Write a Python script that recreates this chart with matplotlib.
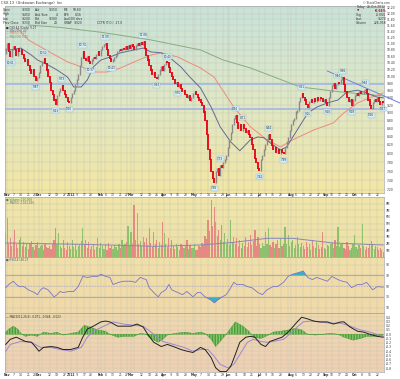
import numpy as np
import pandas as pd
import matplotlib
matplotlib.use("Agg")
import matplotlib.pyplot as plt
from matplotlib.colors import LinearSegmentedColormap
from matplotlib.ticker import FixedLocator, FixedFormatter, NullLocator

# ---------------- data ----------------
closes = [
    10.86, 11.00, 10.74, 10.61, 10.80, 10.90, 10.80, 10.64, 10.83, 10.74,
    10.80, 10.67, 10.55, 10.43, 10.49, 10.31, 10.19, 10.10, 10.19, 10.01,
    9.87, 9.96, 10.13, 10.31, 10.43, 10.52, 10.37, 10.19, 10.01, 9.84,
    9.61, 9.48, 9.34, 9.23, 9.45, 9.56, 9.67, 9.73, 9.61, 9.48,
    9.40, 9.31, 9.26, 9.40, 9.51, 9.61, 9.76, 9.90, 10.07, 10.31,
    10.58, 10.74, 10.55, 10.49, 10.61, 10.43, 10.37, 10.49, 10.58, 10.55,
    10.67, 10.74, 10.64, 10.80, 10.90, 10.96, 11.00, 10.80, 10.64, 10.55,
    10.43, 10.49, 10.58, 10.64, 10.74, 10.80, 10.77, 10.86, 10.80, 10.90,
    10.83, 10.93, 10.86, 10.96, 10.90, 10.83, 10.93, 11.00, 10.93, 11.03,
    10.96, 11.06, 10.86, 10.64, 10.49, 10.31, 10.19, 10.07, 10.13, 9.98,
    9.93, 10.07, 10.19, 10.28, 10.19, 10.34, 10.43, 10.40, 10.25, 10.13,
    10.01, 9.90, 9.79, 9.84, 9.70, 9.76, 9.67, 9.56, 9.61, 9.48,
    9.40, 9.45, 9.34, 9.42, 9.51, 9.56, 9.48, 9.40, 9.34, 9.26,
    9.18, 9.02, 8.81, 8.44, 8.08, 7.85, 7.58, 7.44, 7.36, 7.58,
    7.66, 7.51, 7.73, 7.68, 7.78, 7.85, 7.96, 8.13, 8.32, 8.51,
    8.69, 8.86, 8.94, 8.76, 8.61, 8.69, 8.56, 8.71, 8.61, 8.51,
    8.56, 8.44, 8.37, 8.20, 8.08, 7.89, 7.78, 7.66, 7.62, 7.85,
    7.96, 8.08, 8.20, 8.32, 8.44, 8.32, 8.18, 8.08, 8.13, 8.03,
    8.08, 7.99, 8.08, 8.01, 7.99, 8.13, 8.27, 8.37, 8.56, 8.69,
    8.81, 8.86, 9.02, 9.07, 9.29, 9.42, 9.51, 9.40, 9.34, 9.23,
    9.15, 9.29, 9.34, 9.26, 9.37, 9.31, 9.40, 9.34, 9.42, 9.37,
    9.29, 9.34, 9.26, 9.20, 9.40, 9.56, 9.73, 9.79, 9.67, 9.76,
    9.84, 9.79, 9.90, 9.96, 9.76, 9.56, 9.40, 9.29, 9.34, 9.18,
    9.34, 9.45, 9.51, 9.45, 9.56, 9.51, 9.53, 9.59, 9.64, 9.51,
    9.34, 9.18, 9.10, 9.26, 9.34, 9.29, 9.40, 9.31, 9.23, 9.31,
    9.27]
first_open = 10.70

volume_m = [
    3.6, 5.8, 2.0, 2.8, 1.6, 2.2, 4.0, 1.9, 1.4, 2.5,
    3.0, 1.7, 2.3, 1.5, 2.1, 1.2, 1.9, 2.4, 1.5, 1.1,
    1.8, 2.2, 1.4, 1.6, 1.8, 1.0, 2.0, 1.5, 1.3, 1.7,
    1.2, 1.9, 2.6, 4.3, 2.0, 3.6, 1.6, 1.3, 2.5, 1.4,
    1.0, 2.2, 1.7, 1.2, 2.5, 1.5, 1.9, 1.1, 1.6, 2.0,
    2.4, 4.3, 1.8, 2.5, 1.4, 2.2, 1.2, 1.6, 2.0, 1.1,
    1.5, 2.8, 1.3, 2.1, 1.7, 1.2, 1.9, 1.0, 2.1, 1.4,
    1.6, 1.2, 1.8, 1.5, 1.1, 1.9, 1.3, 2.5, 1.6, 1.9,
    2.2, 4.6, 1.7, 3.7, 2.0, 7.8, 2.6, 6.6, 1.9, 2.4,
    1.6, 3.0, 2.2, 2.8, 1.8, 4.3, 2.1, 1.5, 3.7, 2.0,
    2.5, 1.4, 2.2, 1.8, 5.2, 3.6, 1.9, 1.5, 2.8, 1.3,
    2.5, 1.7, 1.2, 2.0, 1.5, 1.1, 1.9, 1.8, 1.3, 1.6,
    2.5, 1.2, 1.8, 1.4, 1.3, 2.0, 1.1, 1.0, 1.6, 1.5,
    2.1, 1.8, 3.2, 2.7, 5.5, 3.9, 8.5, 4.6, 7.5, 5.2,
    3.1, 4.0, 2.6, 4.8, 2.2, 3.6, 2.0, 2.7, 1.8, 5.5,
    2.3, 3.0, 1.9, 2.8, 1.6, 2.5, 1.4, 2.1, 1.7, 3.0,
    1.5, 2.2, 3.3, 1.8, 2.4, 4.0, 1.6, 3.0, 1.9, 1.4,
    2.1, 1.6, 3.7, 2.0, 4.3, 1.8, 1.5, 2.2, 1.3, 1.9,
    2.5, 1.4, 2.8, 1.7, 2.0, 4.5, 1.9, 3.3, 1.6, 2.2,
    2.5, 1.4, 1.8, 3.0, 2.0, 1.5, 2.1, 1.7, 1.2, 2.3,
    1.5, 1.9, 1.1, 2.5, 1.6, 1.3, 2.2, 1.8, 1.2, 1.5,
    3.7, 1.4, 1.2, 1.8, 1.6, 2.0, 2.1, 1.3, 2.6, 1.7,
    4.5, 1.5, 1.9, 2.1, 1.4, 1.2, 2.2, 1.6, 1.1, 1.3,
    2.0, 3.3, 1.5, 1.2, 1.8, 1.4, 4.9, 1.7, 1.1, 1.5,
    1.3, 2.0, 2.4, 1.8, 1.2, 1.6, 1.5, 1.1, 1.3, 1.0,
    0.8]

ma20_idx = [0, 3, 10, 17, 21, 28, 34, 41, 45, 50, 54, 58, 63, 69, 76, 85, 91, 96, 103,
            109, 116, 122, 129, 136, 142, 149, 155, 162, 167, 171, 175, 182, 186, 193,
            200, 206, 213, 220, 226, 233, 239, 246, 250]
ma20_val = [10.80, 10.80, 10.86, 10.64, 10.49, 10.34, 10.19, 9.98, 9.70, 9.70, 9.90, 10.28,
            10.49, 10.58, 10.71, 10.80, 10.86, 10.74, 10.71, 10.55, 10.28, 9.98, 9.67, 9.15,
            8.64, 8.27, 8.06, 8.32, 8.39, 8.37, 8.25, 8.08, 8.15, 8.56, 8.99, 9.15, 9.26,
            9.34, 9.56, 9.61, 9.53, 9.42, 9.40]
ma50_idx = [7, 15, 30, 41, 52, 58, 67, 76, 85, 96, 103, 114, 122, 129, 138, 151, 162, 173,
            182, 190, 204, 217, 224, 233, 241, 250]
ma50_val = [11.53, 11.12, 10.71, 10.43, 10.25, 10.13, 10.13, 10.25, 10.43, 10.64, 10.71,
            10.58, 10.40, 10.25, 9.98, 9.15, 8.64, 8.32, 8.15, 8.32, 8.56, 8.74, 9.00, 9.26,
            9.40, 9.53]
ma200_idx = [15, 36, 63, 96, 129, 144, 162, 195, 222, 250]
ma200_val = [11.61, 11.53, 11.37, 11.12, 10.80, 10.49, 10.25, 9.70, 9.56, 9.45]

volma_idx = [0, 50, 100, 129, 151, 173, 190, 217, 250]
volma_val = [2.1, 1.9, 1.6, 1.8, 2.2, 2.8, 2.8, 2.1, 1.8]

rsi_idx = [0, 2, 5, 7, 9, 12, 15, 19, 21, 23, 25, 28, 32, 34, 36, 38, 42, 45, 48, 51, 54, 58,
           61, 63, 66, 69, 71, 75, 78, 83, 86, 89, 93, 95, 98, 101, 103, 106, 108, 110, 114,
           117, 120, 124, 127, 129, 132, 136, 138, 140, 142, 146, 149, 151, 153, 157, 160,
           163, 167, 170, 173, 177, 180, 184, 187, 190, 195, 197, 200, 203, 206, 210, 213,
           216, 220, 223, 226, 229, 233, 236, 239, 243, 246, 250]
rsi_val = [47, 53, 59, 53, 49, 49, 43, 38, 34, 43, 47, 43, 30, 34, 40, 38, 40, 40, 49, 68,
           66, 68, 68, 72, 68, 66, 53, 57, 59, 59, 57, 66, 62, 47, 38, 30, 38, 43, 53, 43,
           38, 34, 40, 30, 38, 38, 30, 24, 19, 24, 28, 34, 47, 57, 53, 53, 49, 47, 38, 34,
           43, 49, 49, 57, 68, 72, 76, 78, 66, 62, 66, 62, 59, 68, 62, 59, 57, 47, 53, 53,
           57, 43, 49, 48]

macd_idx = [0, 3, 7, 10, 13, 17, 20, 22, 25, 30, 34, 38, 43, 48, 51, 54, 58, 63, 66, 69,
            74, 78, 83, 87, 91, 94, 98, 103, 107, 111, 116, 120, 124, 129, 132, 136, 139,
            142, 146, 149, 152, 155, 159, 162, 165, 169, 172, 175, 179, 183, 187, 190, 193,
            196, 200, 204, 208, 213, 217, 222, 224, 228, 233, 237, 241, 246, 250]
macd_val = [-0.24, -0.12, -0.07, -0.12, -0.17, -0.19, -0.31, -0.40, -0.31, -0.29, -0.31,
            -0.36, -0.36, -0.31, -0.07, 0.12, 0.19, 0.29, 0.31, 0.29, 0.19, 0.19, 0.19,
            0.24, 0.17, 0.0, -0.19, -0.29, -0.24, -0.29, -0.36, -0.40, -0.43, -0.31, -0.36,
            -0.55, -0.79, -0.88, -0.88, -0.76, -0.48, -0.19, -0.07, -0.05, -0.07, -0.24,
            -0.29, -0.17, -0.12, -0.07, 0.05, 0.17, 0.29, 0.40, 0.36, 0.31, 0.29, 0.29,
            0.24, 0.29, 0.29, 0.17, 0.07, 0.05, 0.0, -0.05, -0.07]
sig_idx = [0, 3, 10, 17, 23, 30, 36, 43, 50, 54, 58, 65, 71, 78, 85, 91, 98, 104, 111, 118,
           124, 129, 134, 138, 142, 147, 151, 155, 160, 164, 169, 173, 177, 184, 188, 193,
           197, 202, 208, 215, 222, 228, 235, 241, 250]
sig_val = [-0.40, -0.24, -0.17, -0.19, -0.31, -0.31, -0.36, -0.40, -0.31, -0.07, 0.07, 0.19,
           0.29, 0.24, 0.21, 0.19, 0.0, -0.17, -0.24, -0.31, -0.40, -0.36, -0.36, -0.52,
           -0.71, -0.79, -0.71, -0.48, -0.19, -0.12, -0.17, -0.19, -0.17, -0.12, 0.0, 0.17,
           0.29, 0.31, 0.29, 0.26, 0.26, 0.19, 0.10, 0.05, -0.05]
hist_idx = [0, 2, 5, 8, 10, 13, 17, 21, 25, 30, 34, 38, 43, 48, 52, 56, 61, 66, 69, 74, 79,
            85, 89, 93, 96, 101, 104, 107, 112, 119, 124, 129, 132, 136, 139, 142, 146, 149,
            152, 157, 161, 164, 169, 174, 177, 182, 187, 192, 196, 200, 205, 210, 215, 220,
            224, 230, 235, 239, 245, 250]
hist_val = [0.05, 0.12, 0.19, 0.12, 0.02, -0.05, -0.02, -0.05, 0.05, 0.02, 0.05, -0.02,
            0.02, 0.05, 0.21, 0.17, 0.10, 0.07, 0.0, -0.07, -0.05, -0.05, 0.02, 0.0, -0.10,
            -0.19, -0.12, -0.02, 0.02, 0.05, 0.02, 0.05, 0.02, -0.12, -0.29, -0.17, 0.0,
            0.14, 0.29, 0.19, 0.07, -0.07, -0.10, -0.02, 0.05, 0.07, 0.10, 0.14, 0.10, 0.0,
            -0.02, 0.0, 0.02, 0.0, -0.07, -0.14, -0.10, -0.05, -0.05, -0.02]

swing_high_idx = [25, 37, 51, 66, 91, 107, 142, 152, 157, 174, 196, 220, 223, 238]
swing_low_idx = [3, 20, 33, 42, 56, 70, 100, 114, 138, 168, 184, 200, 213, 229, 242, 250]
support_levels = [9.79, 9.10]
trend_idx = [213, 261]
trend_val = [10.16, 9.26]

holidays = ['2011-11-24', '2011-12-26', '2012-01-02', '2012-01-16', '2012-02-20',
            '2012-04-06', '2012-05-28', '2012-07-04', '2012-09-03']

# ---------------- figure ----------------
W, H = 400, 379
fig = plt.figure(figsize=(W / 100, H / 100), dpi=100)
fig.patch.set_facecolor('white')
FS = 2.2
TXT = '#333333'


def T(x, y, s, **kw):
    kw.setdefault('fontsize', 2.2)
    kw.setdefault('color', TXT)
    kw.setdefault('va', 'center')
    return fig.text(x / W, 1 - y / H, s, **kw)


def panel(y0, y1, colors):
    rect = [5 / W, 1 - y1 / H, 379 / W, (y1 - y0) / H]
    bg = fig.add_axes(rect, zorder=0)
    bg.axis('off')
    cmap = LinearSegmentedColormap.from_list('g', colors)
    bg.imshow(np.linspace(0, 1, 256).reshape(-1, 1), aspect='auto', cmap=cmap,
              extent=[0, 1, 0, 1], origin='upper')
    bg.set_xlim(0, 1)
    bg.set_ylim(0, 1)
    ax = fig.add_axes(rect, zorder=1)
    ax.patch.set_alpha(0)
    for s in ax.spines.values():
        s.set_color('#a8a8a8')
        s.set_linewidth(0.5)
    return ax


ax_p = panel(6, 193, ['#c8e3dc', '#dfe8c6', '#f3e6a2'])
ax_v = panel(197, 257, ['#f1e6a8', '#eee0a6'])
ax_r = panel(257, 313, ['#f2e0a8', '#f1d9a9'])
ax_m = panel(313, 372, ['#f1d9ac', '#f1cfb4'])

n = len(closes)
x = np.arange(n)
c = np.array(closes)
o = np.array([first_open] + closes[:-1])
dates = pd.bdate_range('2011-10-31', periods=n, freq='C', holidays=holidays)

# x ticks (months and weeks)
month_pos, month_lab, week_pos, week_lab = [], [], [], []
for k in range(1, n):
    d, p = dates[k], dates[k - 1]
    if d.month != p.month:
        month_pos.append(k)
        month_lab.append(str(d.year) if d.month == 1 else d.strftime('%b'))
    elif d.isocalendar()[1] != p.isocalendar()[1]:
        week_pos.append(k)
        week_lab.append(str(d.day))
all_pos = sorted(month_pos + week_pos)
# weekly numbers too close to a month name are not printed (they would collide)
keep = [j for j, k in enumerate(week_pos) if min(abs(k - m) for m in month_pos) > 2]
lab_week_pos = [week_pos[j] for j in keep]
lab_week_lab = [week_lab[j] for j in keep]

for ax in (ax_p, ax_v, ax_r, ax_m):
    ax.set_xlim(-0.5, n - 0.5)
    ax.set_xticks(all_pos)
    ax.set_xticklabels([])
    ax.tick_params(axis='both', length=0, labelsize=FS, colors=TXT, pad=1.0)
    ax.yaxis.tick_right()
    ax.grid(True, color='#c5c8b6', lw=0.35)
    ax.set_axisbelow(True)

for ytxt in (195.3, 375.3):
    for k, s in zip(lab_week_pos, lab_week_lab):
        T(5 + (k + 0.5) * 379 / n, ytxt, s, ha='center', fontsize=FS)
    for k, s in zip(month_pos, month_lab):
        T(5 + (k + 0.5) * 379 / n, ytxt, s, ha='center', fontsize=FS, fontweight='bold')

# ---------------- price panel ----------------
ax_p.set_yscale('log')
ax_p.set_ylim(7.13, 12.27)
pt = np.round(np.arange(7.2, 12.21, 0.2), 2)
ax_p.yaxis.set_major_locator(FixedLocator(pt))
ax_p.yaxis.set_minor_locator(NullLocator())
ax_p.yaxis.set_major_formatter(FixedFormatter([f'{v:.2f}' for v in pt]))
ax_p.tick_params(axis='y', pad=2.0)

for lvl in support_levels:
    ax_p.axhline(lvl, color='#9fb3e6', lw=1.3, alpha=0.85, zorder=2)
ax_p.plot(trend_idx, trend_val, color='#6f7fe0', lw=0.7, clip_on=False, zorder=3)

ax_p.plot(ma200_idx, ma200_val, color='#86ad80', lw=0.7, zorder=3)
ax_p.plot(ma50_idx, ma50_val, color='#ef8a7c', lw=0.7, zorder=3)
ax_p.plot(ma20_idx, ma20_val, color='#626a96', lw=0.7, zorder=3)

lo = np.minimum(o, c) / 1.0015
hi = np.maximum(o, c) * 1.0015
up = c >= o
ax_p.vlines(x[up], lo[up], hi[up], color='#8a8a8a', lw=1.0, zorder=4)
ax_p.vlines(x[~up], lo[~up], hi[~up], color='#e60012', lw=1.3, zorder=4)

bb = dict(boxstyle='square,pad=0.15', fc='#d6eef5', ec='#93b9cc', lw=0.3)
for i in swing_high_idx:
    ax_p.annotate(f'{closes[i]:.2f}', (i, closes[i] * 1.004), xytext=(0, 2.2),
                  textcoords='offset points', ha='center', va='bottom', fontsize=2.0,
                  color='#303030', bbox=bb, zorder=5)
for i in swing_low_idx:
    ax_p.annotate(f'{closes[i]:.2f}', (i, closes[i] / 1.004), xytext=(0, -2.2),
                  textcoords='offset points', ha='center', va='top', fontsize=2.0,
                  color='#303030', bbox=bb, zorder=5)

# header
T(1, 3, 'CSX.13  (Unknown Exchange)  Inc', fontsize=2.6)
T(363, 2.5, '© StockCharts.com', fontsize=2.0)
rows = [('Open', '9.300', 'Ask', '9.350', 'P/E', '58.60'),
        ('High', '9.450', 'Ask Size', '4', 'EPS', '0.16'),
        ('Low', '9.200', 'Bid', '9.300', 'Last', '100 shrs'),
        ('Prev Close', '9.330', 'Bid Size', '24', 'VWAP', '9.320')]
for r, yy in zip(rows, [10, 14.5, 19, 23.5]):
    T(3, yy, r[0]); T(31, yy, r[1], ha='right')
    T(35, yy, r[2]); T(58, yy, r[3], ha='right')
    T(64, yy, r[4]); T(82, yy, r[5], ha='right')
T(97, 23.5, 'CCTR (T.O.)  27.0')
T(356, 7, 'Today'); T(386, 7, '26-Oct-2012', ha='right')
T(357, 11, '▼', color='#cc0000'); T(386, 11, '-0.64%', ha='right', color='#cc0000', fontweight='bold')
T(356, 15, 'Chg'); T(386, 15, '-0.060', ha='right')
T(356, 19, 'Last'); T(386, 19, '9.270', ha='right')
T(356, 23.5, 'Volume'); T(386, 23.5, '226,958', ha='right')

T(6, 27.5, '■ CSX.13 (Daily) 9.27', fontsize=2.0)
T(6, 30.5, '— MA(20) 9.40', fontsize=2.0, color='#626a96')
T(6, 33.5, '— MA(50) 9.53', fontsize=2.0, color='#e0705f')
T(6, 36.5, '— MA(200) 9.45', fontsize=2.0, color='#6f9a68')

# ---------------- volume panel ----------------
vol = np.array(volume_m)
vcol = ['#e48a82' if (k > 0 and closes[k] < closes[k - 1]) else '#8fc06e' for k in range(n)]
ax_v.bar(x, vol, width=0.8, color=vcol, lw=0, zorder=3)
ax_v.plot(volma_idx, volma_val, color='#8a86b8', lw=0.7, zorder=4)
ax_v.set_ylim(0, 9.0)
vt = np.arange(1, 9)
ax_v.set_yticks(vt)
ax_v.set_yticklabels([f'{v}M' for v in vt])
T(6, 199.5, '■ Volume 226,958', fontsize=2.0, color='#4a8a3a')
T(6, 202.5, '— MA(50) 2,012,466', fontsize=2.0, color='#6a66a0')

# ---------------- RSI panel ----------------
ax_r.set_ylim(0, 104)
ax_r.set_yticks([10, 30, 50, 70, 90])
ax_r.plot(rsi_idx, rsi_val, color='#7a74c8', lw=0.6, zorder=4)
rv = np.array(rsi_val, dtype=float)
ax_r.fill_between(rsi_idx, rv, 70, where=rv > 70, interpolate=True, color='#3ab0c4', lw=0, zorder=3)
ax_r.fill_between(rsi_idx, rv, 30, where=rv < 30, interpolate=True, color='#3ab0c4', lw=0, zorder=3)
ax_r.axhline(70, color='#b0a8cc', lw=0.8, zorder=2)
ax_r.axhline(30, color='#b0a8cc', lw=0.8, zorder=2)
ax_r.axhline(50, color='#b0a8cc', lw=0.5, ls=(0, (2, 2)), zorder=2)
T(6, 259.5, '■ RSI(14) 48.27', fontsize=2.0, color='#4060a0')

# ---------------- MACD panel ----------------
ax_m.set_ylim(-0.89, 0.5)
mt = np.round(np.arange(-0.8, 0.45, 0.1), 1)
ax_m.set_yticks(mt)
ax_m.set_yticklabels([f'{v:.1f}' for v in mt])
hv = np.array(hist_val)
ax_m.fill_between(hist_idx, hv, 0, facecolor='#86c86c', edgecolor='#4d9a3c', lw=0.3,
                  hatch='||||||', zorder=3)
ax_m.plot(sig_idx, sig_val, color='#a184d6', lw=0.7, zorder=4)
ax_m.plot(macd_idx, macd_val, color='#222222', lw=0.7, zorder=5)
T(6, 316.5, '— MACD(12,26,9) -0.071, -0.048, -0.023', fontsize=2.0)

fig.savefig('out.png', dpi=100, facecolor='white')
